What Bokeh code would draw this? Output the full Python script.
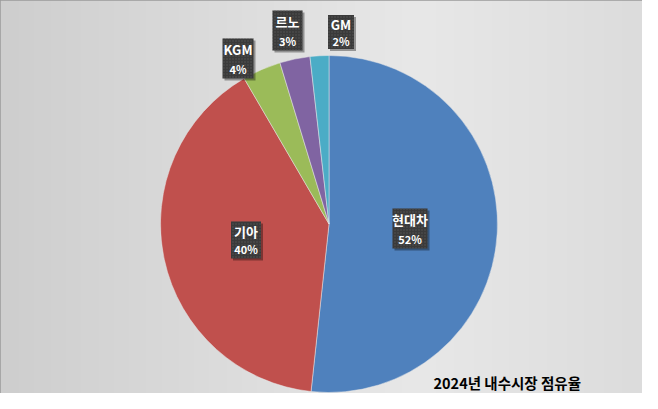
import numpy as np
from bokeh.plotting import figure
from bokeh.models import Range1d, ColumnDataSource
from bokeh.core.properties import value
from bokeh.embed import file_html
from bokeh.resources import INLINE

# ---- data ----
brands = ["현대차", "기아", "KGM", "르노", "GM"]
shares = [51.7, 39.9, 3.7, 2.9, 1.8]
pct_labels = ["52%", "40%", "4%", "3%", "2%"]
colors = ["#4F81BD", "#C0504D", "#9BBB59", "#8064A2", "#4BACC6"]
title_text = "2024년 내수시장 점유율"

# ---- layout (pixel coords of reference picture) ----
W, H = 642, 393
def fx(px):
    return px
def fy(py):
    return H - py

cx, cy, R = 328.5, 223.5, 168.5
# label box centers & sizes in picture coords
label_pos = [(409.5, 228, 35, 40), (245.5, 239.5, 30, 37), (237.5, 58, 31, 40),
             (287, 30, 30, 40), (340.5, 31.5, 26, 34)]

p = figure(width=W, height=H, output_backend="svg", toolbar_location=None,
           x_range=Range1d(0, W), y_range=Range1d(0, H), min_border=0)
p.axis.visible = False
p.grid.visible = False
p.outline_line_color = "#9a9a9a"
p.outline_line_width = 2
p.background_fill_color = "#dcdcdc"
p.border_fill_color = "white"

# background gradient
n = 256
t = np.linspace(0, 1, n)
stops_x = [0.0, 0.65, 1.0]
stops_v = [206, 232, 220]
v = np.interp(t, stops_x, stops_v).astype(np.uint32)
img = np.empty((1, n), dtype=np.uint32)
img[0, :] = (255 << 24) | (v << 16) | (v << 8) | v
p.image_rgba(image=[img], x=0, y=0, dw=W, dh=H)

# pie
fr = np.array(shares) / sum(shares)
cum = np.concatenate([[0], np.cumsum(fr)])
start = np.pi / 2 - cum[:-1] * 2 * np.pi
end = np.pi / 2 - cum[1:] * 2 * np.pi
src = ColumnDataSource(dict(start=start, end=end, color=colors, brand=brands))
p.wedge(x=fx(cx), y=fy(cy), radius=R, start_angle="start", end_angle="end",
        direction="clock", fill_color="color", line_color="#e8e8e8", line_width=0.5,
        source=src)

# labels
lx = [fx(a[0]) for a in label_pos]
ly = [fy(a[1]) for a in label_pos]
lw = [a[2] for a in label_pos]
lh = [a[3] for a in label_pos]
p.rect(x=[x + 2 for x in lx], y=[y - 2 for y in ly], width=lw, height=lh,
       fill_color="black", fill_alpha=0.35, line_color=None)
p.rect(x=lx, y=ly, width=lw, height=lh, fill_color="#3a3a3a", line_color=None,
       hatch_pattern="dot", hatch_color="#555555", hatch_scale=3, hatch_weight=1)
p.text(x=lx, y=[y + lh[i] * 0.23 for i, y in enumerate(ly)], text=brands,
       text_font=value("Noto Sans CJK KR"), text_font_style="bold",
       text_font_size="13px", text_color="white", text_align="center",
       text_baseline="middle")
p.text(x=lx, y=[y - lh[i] * 0.25 for i, y in enumerate(ly)], text=pct_labels,
       text_font=value("Noto Sans CJK KR"), text_font_style="bold",
       text_font_size="11px", text_color="white", text_align="center",
       text_baseline="middle")

# title
p.text(x=[fx(433)], y=[fy(382)], text=[title_text],
       text_font=value("Noto Sans CJK KR"), text_font_style="bold",
       text_font_size="14.5px", text_color="black", text_align="left",
       text_baseline="middle")

open("out.html", "w").write(file_html(p, INLINE))
